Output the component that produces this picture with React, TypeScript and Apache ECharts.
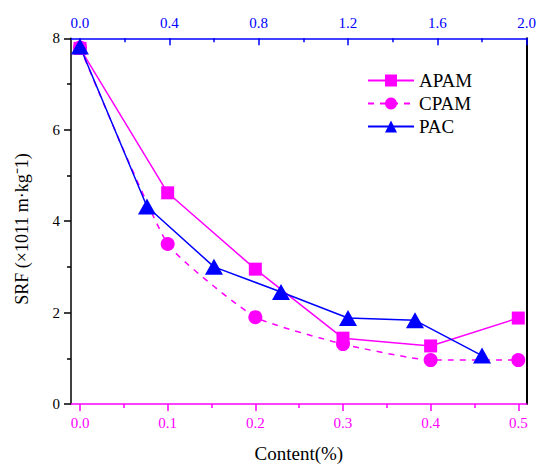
import React, { useEffect, useRef } from "react";
import * as echarts from "echarts";

const contentX = [0, 0.1, 0.2, 0.3, 0.4, 0.5];
const apamValues = [7.78, 4.62, 2.95, 1.44, 1.27, 1.88];
const cpamValues = [7.8, 3.5, 1.9, 1.31, 0.96, 0.96];
const pacDose = [0, 0.3, 0.6, 0.9, 1.2, 1.5, 1.8];
const pacValues = [7.82, 4.32, 3.0, 2.45, 1.88, 1.83, 1.06];

const bottomTicks = [0, 0.1, 0.2, 0.3, 0.4, 0.5];
const bottomMinorTicks = [0.05, 0.15, 0.25, 0.35, 0.45];
const topTicks = [0, 0.4, 0.8, 1.2, 1.6, 2.0];
const topMinorTicks = [0.2, 0.6, 1.0, 1.4, 1.8];

const FONT = "Liberation Serif";
const MAGENTA = "#FF00FF";
const BLUE = "#0000FF";

export default function App() {
  const ref = useRef<HTMLDivElement>(null);
  useEffect(() => {
    if (!ref.current) return;
    const chart = echarts.init(ref.current, undefined, { renderer: "svg" });
    const bMin = -0.0103, bMax = 0.5096, tMin = -0.04, tMax = 2.0;
    chart.setOption({
      animation: false,
      backgroundColor: "#fff",
      grid: { left: 71, right: 23.3, top: 38.3, bottom: 68 },
      legend: {
        orient: "vertical",
        left: 367,
        top: 71,
        padding: 0,
        itemWidth: 46,
        itemHeight: 15,
        itemGap: 4,
        textStyle: { fontFamily: FONT, fontSize: 19, color: "#000" },
        data: ["APAM", "CPAM", "PAC"],
      },
      xAxis: [
        {
          type: "value", position: "bottom", min: bMin, max: bMax,
          name: "Content(%)", nameLocation: "middle", nameGap: 40,
          nameTextStyle: { fontFamily: FONT, fontSize: 19, color: "#000" },
          axisLine: { show: true, onZero: false, lineStyle: { color: MAGENTA, width: 1.5 } },
          axisTick: { show: true, inside: false, length: 7, customValues: bottomTicks, lineStyle: { color: MAGENTA, width: 1.5 } },
          axisLabel: { show: true, margin: 11, customValues: bottomTicks, formatter: (v: number) => v.toFixed(1), color: MAGENTA, fontFamily: FONT, fontSize: 15 },
          splitLine: { show: false },
        },
        {
          type: "value", position: "bottom", min: bMin, max: bMax,
          axisLine: { show: false, onZero: false },
          axisTick: { show: true, inside: false, length: 4, customValues: bottomMinorTicks, lineStyle: { color: MAGENTA, width: 1.5 } },
          axisLabel: { show: false },
          splitLine: { show: false },
        },
        {
          type: "value", position: "top", min: tMin, max: tMax,
          axisLine: { show: true, onZero: false, lineStyle: { color: BLUE, width: 1.5 } },
          axisTick: { show: true, inside: true, length: 7, customValues: topTicks, lineStyle: { color: BLUE, width: 1.5 } },
          axisLabel: { show: true, margin: 8, customValues: topTicks, formatter: (v: number) => v.toFixed(1), color: BLUE, fontFamily: FONT, fontSize: 15 },
          splitLine: { show: false },
        },
        {
          type: "value", position: "top", min: tMin, max: tMax,
          axisLine: { show: false, onZero: false },
          axisTick: { show: true, inside: true, length: 4, customValues: topMinorTicks, lineStyle: { color: BLUE, width: 1.5 } },
          axisLabel: { show: false },
          splitLine: { show: false },
        },
      ],
      yAxis: [
        {
          type: "value", position: "left", min: 0, max: 8, interval: 2,
          axisLine: { show: true, onZero: false, lineStyle: { color: "#000", width: 1.5 } },
          axisTick: { show: true, inside: false, length: 7, lineStyle: { color: "#000", width: 1.5 } },
          minorTick: { show: true, splitNumber: 2, length: 4, lineStyle: { color: "#000", width: 1.5 } },
          axisLabel: { show: true, margin: 11, color: "#000", fontFamily: FONT, fontSize: 15 },
          splitLine: { show: false },
          minorSplitLine: { show: false },
        },
        {
          type: "value", position: "right", min: 0, max: 8,
          axisLine: { show: true, onZero: false, lineStyle: { color: "#000", width: 2 } },
          axisTick: { show: false },
          axisLabel: { show: false },
          splitLine: { show: false },
        },
      ],
      graphic: [
        {
          type: "text",
          x: 22,
          y: 229,
          rotation: Math.PI / 2,
          style: {
            text: "SRF (×1011 m·kg⁻1)",
            fontFamily: FONT,
            fontSize: 18,
            fill: "#000",
            align: "center",
            verticalAlign: "middle",
          },
        },
      ],
      series: [
        {
          name: "APAM",
          type: "line",
          xAxisIndex: 0,
          yAxisIndex: 0,
          data: contentX.map((x, i) => [x, apamValues[i]]),
          symbol: "rect",
          symbolSize: 13,
          itemStyle: { color: MAGENTA },
          lineStyle: { color: MAGENTA, width: 1.5 },
        },
        {
          name: "CPAM",
          type: "line",
          xAxisIndex: 0,
          yAxisIndex: 0,
          smooth: 0.15,
          data: contentX.map((x, i) => [x, cpamValues[i]]),
          symbol: "circle",
          symbolSize: 14,
          itemStyle: { color: MAGENTA },
          lineStyle: { color: MAGENTA, width: 1.5, type: [6, 6] },
        },
        {
          name: "PAC",
          type: "line",
          xAxisIndex: 2,
          yAxisIndex: 0,
          data: pacDose.map((x, i) => [x, pacValues[i]]),
          symbol: "triangle",
          symbolSize: [18, 16],
          itemStyle: { color: BLUE },
          lineStyle: { color: BLUE, width: 1.5 },
        },
      ],
    });
    return () => chart.dispose();
  }, []);
  return (
    <div
      ref={ref}
      style={{ position: "absolute", left: 0, top: 0, width: 550, height: 472 }}
    />
  );
}
